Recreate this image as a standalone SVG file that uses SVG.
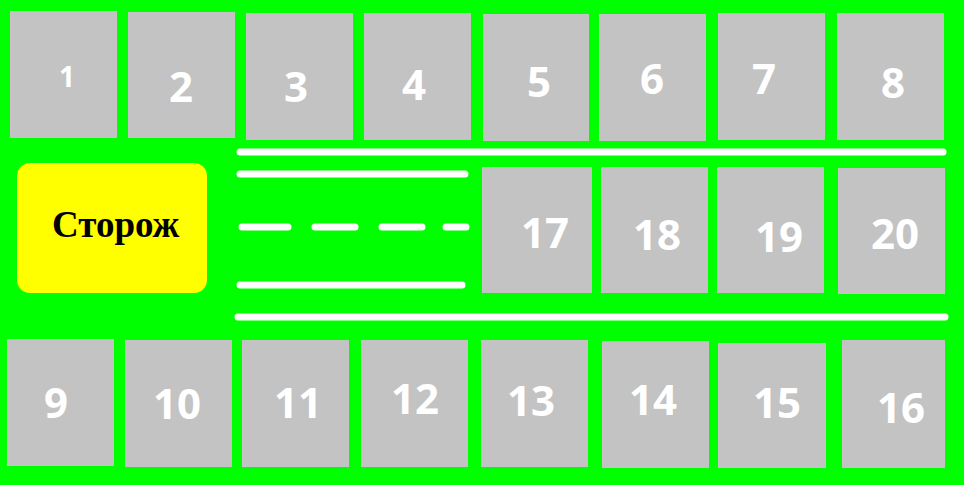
<svg xmlns="http://www.w3.org/2000/svg" width="964" height="485" viewBox="0 0 964 485">
<style>
.box{fill:#c3c3c3}
.num{fill:#ffffff;font-family:"Open Sans","DejaVu Sans",sans-serif;font-weight:700;font-size:42px;text-anchor:middle}
.road{stroke:#ffffff;stroke-width:7;stroke-linecap:round;fill:none}
.guard{fill:#ffff00}
.gtext{fill:#000000;font-family:"Liberation Serif","Times New Roman",serif;font-weight:700;font-size:37px}
</style>
<rect x="0" y="0" width="964" height="485" fill="#00ff00"/>
<g id="connectors">
<line class="road" x1="240" y1="152" x2="943" y2="152"/>
<line class="road" x1="240" y1="174" x2="465" y2="174"/>
<line class="road" x1="242" y1="227" x2="288" y2="227"/>
<line class="road" x1="315" y1="227" x2="355" y2="227"/>
<line class="road" x1="382" y1="227" x2="422" y2="227"/>
<line class="road" x1="446" y1="227" x2="466" y2="227"/>
<line class="road" x1="240" y1="285" x2="462" y2="285"/>
<line class="road" x1="238" y1="317" x2="945" y2="317"/>
</g>
<g id="guard"><rect class="guard" x="17" y="163" width="190" height="130" rx="13"/><text class="gtext" x="52" y="237">Сторож</text></g>
<g id="n1"><rect class="box" x="10" y="11" width="107" height="127"/><text class="num" x="67" y="87" style="font-size:28px">1</text></g>
<g id="n2"><rect class="box" x="128" y="12" width="107" height="126"/><text class="num" x="181" y="102">2</text></g>
<g id="n3"><rect class="box" x="246" y="13" width="107" height="127"/><text class="num" x="296" y="102">3</text></g>
<g id="n4"><rect class="box" x="364" y="13" width="107" height="127"/><text class="num" x="414" y="100">4</text></g>
<g id="n5"><rect class="box" x="483" y="14" width="106" height="127"/><text class="num" x="539" y="97">5</text></g>
<g id="n6"><rect class="box" x="599" y="14" width="107" height="127"/><text class="num" x="652" y="94">6</text></g>
<g id="n7"><rect class="box" x="718" y="13" width="107" height="127"/><text class="num" x="764" y="94">7</text></g>
<g id="n8"><rect class="box" x="837" y="13" width="107" height="127"/><text class="num" x="893" y="98">8</text></g>
<g id="n17"><rect class="box" x="482" y="167" width="110" height="126"/><text class="num" x="545" y="248">17</text></g>
<g id="n18"><rect class="box" x="601" y="167" width="107" height="126"/><text class="num" x="657" y="250">18</text></g>
<g id="n19"><rect class="box" x="717" y="167" width="107" height="126"/><text class="num" x="779" y="252">19</text></g>
<g id="n20"><rect class="box" x="838" y="168" width="107" height="126"/><text class="num" x="895" y="249">20</text></g>
<g id="n9"><rect class="box" x="7" y="339" width="107" height="127"/><text class="num" x="56" y="418">9</text></g>
<g id="n10"><rect class="box" x="125" y="340" width="107" height="127"/><text class="num" x="177" y="419">10</text></g>
<g id="n11"><rect class="box" x="242" y="340" width="107" height="127"/><text class="num" x="298" y="418">11</text></g>
<g id="n12"><rect class="box" x="361" y="340" width="107" height="127"/><text class="num" x="415" y="414">12</text></g>
<g id="n13"><rect class="box" x="481" y="340" width="107" height="127"/><text class="num" x="531" y="416">13</text></g>
<g id="n14"><rect class="box" x="602" y="341" width="107" height="127"/><text class="num" x="653" y="415">14</text></g>
<g id="n15"><rect class="box" x="718" y="343" width="108" height="125"/><text class="num" x="777" y="418">15</text></g>
<g id="n16"><rect class="box" x="842" y="340" width="103" height="128"/><text class="num" x="901" y="423">16</text></g>
</svg>
